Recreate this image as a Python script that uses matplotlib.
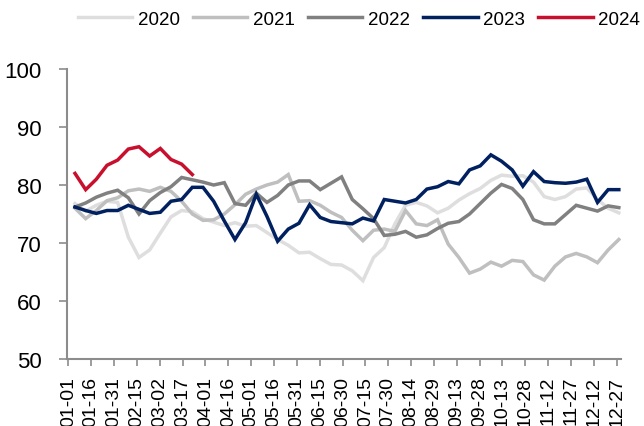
import numpy as np
import matplotlib.pyplot as plt

plt.rcParams['font.family'] = ['Liberation Sans', 'DejaVu Sans']

# tick labels every 15 days (month-day)
tick_labels = ['01-01', '01-16', '01-31', '02-15', '03-02', '03-17', '04-01',
               '04-16', '05-01', '05-16', '05-31', '06-15', '06-30', '07-15',
               '07-30', '08-14', '08-29', '09-13', '09-28', '10-13', '10-28',
               '11-12', '11-27', '12-12', '12-27']

# weekly readings, first week ends around day 4 of the year
first_day = 4.4

y2020 = [76.8, 75.5, 76.5, 77.2, 77.0, 71.0, 67.5, 68.8, 71.7, 74.5,
         75.6, 75.4, 74.2, 73.6, 73.0, 73.5, 72.9, 73.0, 71.8, 70.6,
         69.6, 68.3, 68.4, 67.3, 66.3, 66.2, 65.2, 63.5, 67.5, 69.2,
         73.3, 76.5, 77.0, 76.4, 75.2, 76.0, 77.4, 78.5, 79.4, 80.8,
         81.7, 81.5, 81.6, 80.5, 78.0, 77.5, 78.0, 79.3, 79.5, 77.5,
         76.0, 75.2]
y2021 = [76.0, 74.2, 75.6, 77.3, 77.8, 79.0, 79.3, 78.9, 79.6, 78.9,
         77.2, 75.0, 73.9, 74.0, 75.0, 76.6, 78.4, 79.3, 80.0, 80.5,
         81.8, 77.2, 77.3, 76.5, 75.3, 74.4, 72.2, 70.4, 72.2, 72.4,
         72.0, 75.6, 73.3, 73.0, 74.0, 69.8, 67.5, 64.8, 65.5, 66.7,
         66.0, 67.0, 66.8, 64.5, 63.6, 66.0, 67.6, 68.2, 67.6, 66.6,
         68.8, 70.6]
y2022 = [76.2, 76.9, 77.9, 78.6, 79.1, 77.8, 75.0, 77.3, 78.7, 79.7,
         81.3, 80.9, 80.5, 80.0, 80.4, 76.8, 76.5, 78.6, 77.0, 78.2,
         80.0, 80.7, 80.7, 79.2, 80.3, 81.4, 77.5, 75.9, 74.2, 71.3,
         71.5, 72.0, 71.0, 71.4, 72.5, 73.4, 73.7, 75.0, 76.8, 78.6,
         80.1, 79.4, 77.5, 74.0, 73.3, 73.3, 74.9, 76.5, 76.0, 75.5,
         76.4, 76.1]
y2023 = [76.2, 75.6, 75.1, 75.6, 75.6, 76.5, 75.8, 75.1, 75.3, 77.2,
         77.5, 79.6, 79.6, 77.2, 73.8, 70.6, 73.5, 78.4, 74.6, 70.3,
         72.4, 73.4, 76.6, 74.4, 73.7, 73.5, 73.3, 74.3, 73.8, 77.5,
         77.2, 76.9, 77.5, 79.3, 79.7, 80.6, 80.2, 82.6, 83.3, 85.2,
         84.1, 82.6, 79.8, 82.3, 80.6, 80.4, 80.3, 80.5, 81.0, 77.0,
         79.2, 79.2]
y2024 = [82.0, 79.2, 81.0, 83.4, 84.3, 86.2, 86.6, 85.0, 86.3, 84.4,
         83.6, 81.8]

years = ['2020', '2021', '2022', '2023', '2024']
series = [y2020, y2021, y2022, y2023, y2024]
colors = ['#DEDEDE', '#BFBFBF', '#808080', '#002060', '#C8102E']

fig = plt.figure(figsize=(6.44, 4.27), dpi=100)
ax = fig.add_axes([0.1037, 0.157, 0.861, 0.679])

for name, vals, c in zip(years, series, colors):
    x = first_day + 7 * np.arange(len(vals))
    ax.plot(x, vals, color=c, lw=2.5, label=name, solid_joinstyle='miter')

ax.set_xlim(-1, 363)
ax.set_ylim(50, 100)
ax.set_yticks([50, 60, 70, 80, 90, 100])
ax.set_xticks(15 * np.arange(len(tick_labels)))
ax.set_xticklabels(tick_labels, rotation=90)

for s in ['top', 'right']:
    ax.spines[s].set_visible(False)
for s in ['left', 'bottom']:
    ax.spines[s].set_color('#8c8c8c')
    ax.spines[s].set_linewidth(1.5)
ax.tick_params(axis='y', length=6, width=1.2, color='#8c8c8c', labelsize=16, pad=12)
ax.tick_params(axis='x', length=5, width=1.2, color='#8c8c8c', labelsize=14, pad=7)

fig.legend(loc='upper right', bbox_to_anchor=(1.02, 1.012), ncol=5, frameon=False,
           fontsize=13.5, handlelength=2.9, handletextpad=0.3, columnspacing=0.7)

plt.savefig('out.png', dpi=100)
